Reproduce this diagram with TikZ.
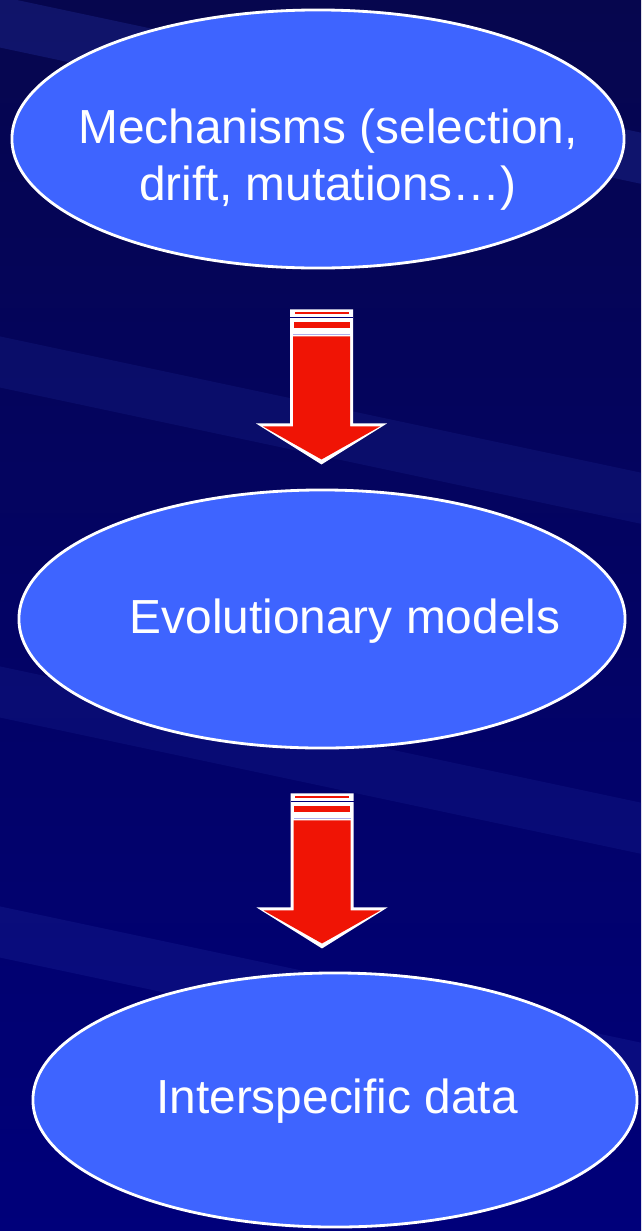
\documentclass[tikz,border=0pt]{standalone}
\usepackage{fontspec}
\setmainfont{Liberation Sans}
\usetikzlibrary{shapes.geometric, positioning, calc}

\definecolor{navy}{RGB}{6,6,78}
\definecolor{navydeep}{RGB}{0,0,122}
\definecolor{navylight}{RGB}{40,55,170}
\definecolor{ovalblue}{RGB}{62,100,255}
\definecolor{arrowred}{RGB}{240,20,5}
\definecolor{lavender}{RGB}{175,175,235}

\tikzset{
  oval/.style={ellipse, draw=white, line width=2pt, fill=ovalblue, inner sep=0pt},
  ovaltext/.style={text=white, align=center, inner sep=0pt,
    font=\fontsize{34}{40.5}\selectfont},
  pics/downarrow/.style={code={
    % white outline of the block arrow
    \fill[white] (-31.5,0) -- (31.5,0) -- (31.5,114) -- (65.5,114) -- (0,155)
      -- (-65.5,114) -- (-31.5,114) -- cycle;
    % red body
    \fill[arrowred] (-28.5,27) -- (28.5,27) -- (28.5,117) -- (58.5,117) -- (0,150)
      -- (-58.5,117) -- (-28.5,117) -- cycle;
    % stripes at the top
    \fill[arrowred] (-27,3) rectangle (27,4.6);
    \fill[navydeep] (-31.5,8) rectangle (31.5,9);
    \fill[arrowred] (-28,12.5) rectangle (28,19);
    \fill[lavender] (-28.5,24.5) rectangle (28.5,26);
  }}
}

\begin{document}
\begin{tikzpicture}[x=0.025cm, y=-0.025cm]
  \useasboundingbox (0,0) rectangle (641,1231);
  % background
  \begin{scope}
    \clip (0,0) rectangle (641,1231);
    \shade[top color=navy, bottom color=navydeep] (0,0) rectangle (641,1231);
    \foreach \yy/\op in {90/0.3, 430/0.18, 760/0.18, 1000/0.22}
      \fill[navylight, opacity=\op, rotate around={-12:(320,\yy)}]
        (-100,\yy-25) rectangle (760,\yy+25);
  \end{scope}

  % ovals
  \node[oval, minimum width=15.3cm, minimum height=6.45cm] (mech) at (318,139) {};
  \node[oval, minimum width=15.15cm, minimum height=6.45cm] (evol) at (322,619) {};
  \node[oval, minimum width=15.1cm, minimum height=6.35cm] (inter) at (335,1100) {};

  % labels
  \node[ovaltext] (mechtxt) at ($(mech.center)+(10,21)$)
    {Mechanisms (selection,\\drift, mutations\dots)};
  \node[ovaltext] (evoltxt) at ($(evol.center)+(23,2)$) {Evolutionary models};
  \node[ovaltext] (intertxt) at ($(inter.center)+(2,1)$) {Interspecific data};

  % arrows
  \pic at ($(mech.south)+(3.5,40)$) {downarrow};
  \pic at ($(evol.south)+(0,44)$) {downarrow};
\end{tikzpicture}
\end{document}
